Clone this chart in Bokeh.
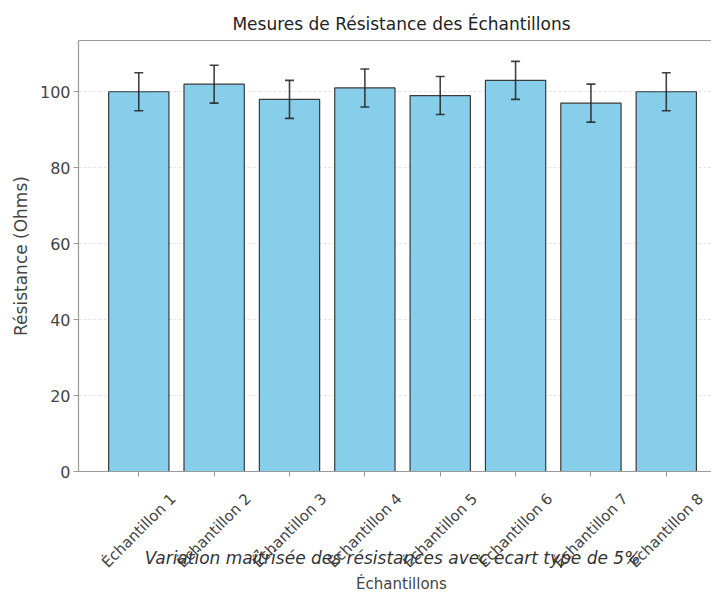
import math
from bokeh.plotting import figure
from bokeh.models import (ColumnDataSource, Range1d, FixedTicker, Whisker, TeeHead,
                          LabelSet, Label, LinearAxis)
from bokeh.core.properties import value
from bokeh.embed import file_html
from bokeh.resources import INLINE

categories = ["Échantillon 1", "Échantillon 2", "Échantillon 3", "Échantillon 4",
              "Échantillon 5", "Échantillon 6", "Échantillon 7", "Échantillon 8"]
resistances = [100, 102, 98, 101, 99, 103, 97, 100]
errors = [5, 5, 5, 5, 5, 5, 5, 5]
y_ticks = [0, 20, 40, 60, 80, 100]
y_max = 113.5

title_text = "Mesures de Résistance des Échantillons"
subtitle_text = "Variation maîtrisée des résistances avec écart type de 5%"
x_label = "Échantillons"
y_label = "Résistance (Ohms)"

FONT = "DejaVu Sans"
xs = list(range(len(categories)))
src = ColumnDataSource(dict(
    x=xs, top=resistances, cat=categories,
    upper=[v + e for v, e in zip(resistances, errors)],
    lower=[v - e for v, e in zip(resistances, errors)],
    zero=[0] * len(xs),
))

# ---- layout (pixels) ----
W, H = 711, 596
AX_L, AX_T, AX_B = 78, 40, 471          # plot-area left, top, baseline (y=0)
X_A, X_B = -0.8, 7.6                    # visible category span of the plot area
ppu_x = (W - AX_L) / (X_B - X_A)
x_lo = X_A - AX_L / ppu_x
ppu_y = (AX_B - AX_T) / y_max
y_lo = -(H - AX_B) / ppu_y
y_hi = AX_B / ppu_y


def xd(px):
    return x_lo + px / ppu_x


# the frame covers the whole canvas so that surrounding texts are not clipped
p = figure(width=W, height=H, output_backend="svg", toolbar_location=None,
           x_range=Range1d(x_lo, X_B), y_range=Range1d(y_lo, y_hi),
           min_border_left=0, min_border_right=0, min_border_top=0,
           min_border_bottom=0, x_axis_location=None, y_axis_location=None)
p.outline_line_color = None

p.vbar(x="x", top="top", width=0.8, source=src, fill_color="#87CEEB",
       line_color="#3a3a3a", line_width=1.2)

w = Whisker(base="x", upper="upper", lower="lower", source=src, level="overlay",
            line_color="#222222", line_width=1.6, line_alpha=0.85,
            upper_head=TeeHead(size=9, line_color="#222222", line_width=1.6, line_alpha=0.85),
            lower_head=TeeHead(size=9, line_color="#222222", line_width=1.6, line_alpha=0.85))
p.add_layout(w)

# y axis (left spine)
yax = LinearAxis(fixed_location=X_A, bounds=(0, y_max), ticker=FixedTicker(ticks=y_ticks),
                 major_label_text_font=FONT, major_label_text_font_size="16px",
                 major_label_text_color="#444444", axis_line_color="#999999",
                 axis_line_width=1.2, major_tick_line_color="#999999",
                 major_tick_in=0, major_tick_out=5, minor_tick_line_color=None,
                 major_label_standoff=3)
p.add_layout(yax, "left")

# x axis at y = 0
xax = LinearAxis(fixed_location=0, bounds=(X_A, X_B), ticker=FixedTicker(ticks=xs),
                 major_label_overrides={i: "" for i in xs},
                 axis_line_color="#999999", axis_line_width=1.2,
                 major_tick_line_color="#999999", major_tick_in=0, major_tick_out=5,
                 minor_tick_line_color=None)
p.add_layout(xax, "below")

# top border of the plot area
tax = LinearAxis(fixed_location=y_max, bounds=(X_A, X_B), ticker=FixedTicker(ticks=[]),
                 axis_line_color="#999999", axis_line_width=1.2,
                 major_tick_line_color=None, minor_tick_line_color=None)
p.add_layout(tax, "above")

p.xgrid.grid_line_color = None
p.ygrid.ticker = FixedTicker(ticks=y_ticks)
p.ygrid.cross_bounds = (X_A, X_B)
p.ygrid.grid_line_color = "#dddddd"
p.ygrid.grid_line_dash = "3 2"
p.ygrid.grid_line_alpha = 0.8

# title
p.add_layout(Label(x=xd(401), y=y_max, y_offset=17, text=title_text, text_align="center",
                   text_baseline="middle", text_font=FONT, text_font_size="17px",
                   text_color="#222222"))

# y axis title
p.add_layout(Label(x=xd(20), y=y_max / 2, angle=math.pi / 2, text=y_label,
                   text_align="center", text_baseline="middle", text_font=FONT,
                   text_font_size="17px", text_color="#444444"))

# rotated category labels, centred under each tick
p.add_layout(LabelSet(x="x", y="zero", text="cat", source=src, angle=math.pi / 4,
                      y_offset=-59, text_align="center", text_baseline="middle",
                      text_font=value(FONT), text_font_size=value("15px"),
                      text_color="#444444"))

# subtitle
p.add_layout(Label(x=xd(392), y=0, y_offset=-86, text=subtitle_text, text_align="center",
                   text_baseline="middle", text_font=FONT, text_font_size="17px",
                   text_font_style="italic", text_color="#333333"))

# x axis title
p.add_layout(Label(x=xd(401), y=0, y_offset=-112, text=x_label, text_align="center",
                   text_baseline="middle", text_font=FONT, text_font_size="15px",
                   text_color="#444444"))

open("out.html", "w").write(file_html(p, INLINE))
